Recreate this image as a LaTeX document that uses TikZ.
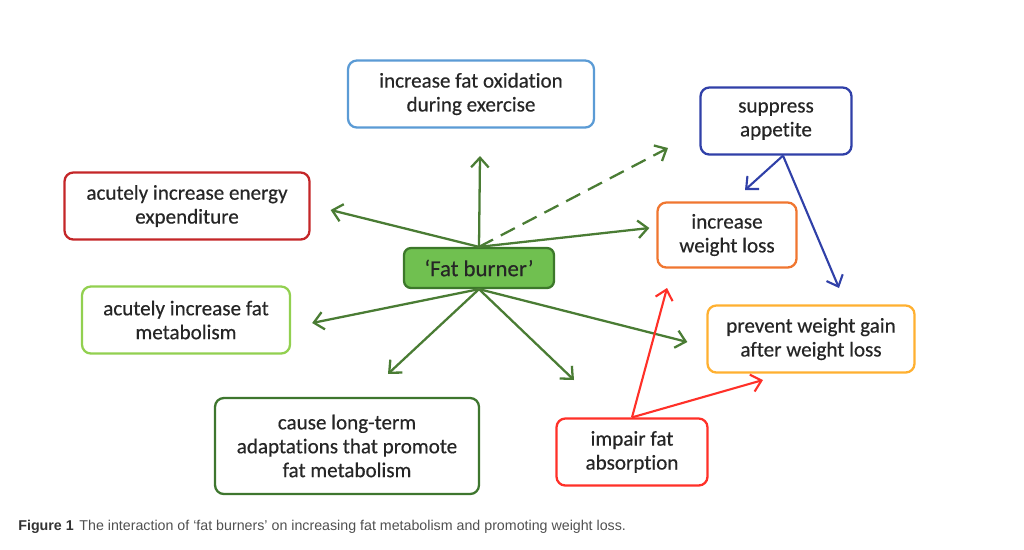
\documentclass[tikz,border=0pt]{standalone}
\usepackage{fontspec}
\setmainfont{Carlito}[Ligatures=NoCommon, FakeBold=0.4]
\newfontfamily\captionfont{Liberation Sans}
\usepackage{xcolor}
\usetikzlibrary{arrows.meta, calc}
\definecolor{oxidblue}{RGB}{91, 155, 213}
\definecolor{appblue}{RGB}{48, 64, 168}
\definecolor{energyred}{RGB}{196, 38, 40}
\definecolor{lossorange}{RGB}{240, 118, 48}
\definecolor{burnerfill}{RGB}{112, 192, 80}
\definecolor{burnerborder}{RGB}{60, 120, 42}
\definecolor{metagreen}{RGB}{146, 208, 80}
\definecolor{gainyellow}{RGB}{255, 176, 48}
\definecolor{termgreen}{RGB}{62, 118, 46}
\definecolor{impairred}{RGB}{255, 48, 40}
\definecolor{arrowgreen}{RGB}{74, 124, 52}
\definecolor{captiongray}{RGB}{80, 80, 80}

\begin{document}
\begin{tikzpicture}[
    x=0.02cm, y=-0.02cm,
    font=\fontsize{12}{13.6}\selectfont,
    effectbox/.style={rectangle, rounded corners=5pt, line width=1.3pt,
                      fill=white, align=center, inner sep=2pt,
                      minimum height=1.34cm, text=black!85},
    burnerbox/.style={rectangle, rounded corners=4pt, line width=1.3pt,
                      draw=burnerborder, fill=burnerfill, text=black!85,
                      minimum width=3.0cm, minimum height=0.8cm,
                      font=\fontsize{13}{14}\selectfont},
    greenarrow/.style={-{Straight Barb[length=5.5pt, width=10pt]},
                       line width=1.3pt, draw=arrowgreen},
    bluearrow/.style={-{Straight Barb[length=5.5pt, width=10pt]},
                      line width=1.2pt, draw=appblue},
    redarrow/.style={-{Straight Barb[length=5.5pt, width=10pt]},
                     line width=1.2pt, draw=impairred},
]
\useasboundingbox (0,0) rectangle (1024,549);

% ============================================================
% BOXES
% ============================================================
\node[effectbox, draw=oxidblue, minimum width=4.92cm] (oxid) at (471, 94)
    {increase fat oxidation\\during exercise};
\node[effectbox, draw=appblue, minimum width=3.02cm] (appetite) at (776, 121)
    {suppress\\appetite};
\node[effectbox, draw=energyred, minimum width=4.9cm] (energy) at (187, 206)
    {acutely increase energy\\expenditure};
\node[effectbox, draw=lossorange, minimum width=2.78cm, minimum height=1.3cm] (loss) at (727, 235)
    {increase\\weight loss};
\node[burnerbox] (burner) at (479, 268) {‘Fat burner’};
\node[effectbox, draw=metagreen, minimum width=4.16cm] (fatmeta) at (186, 320)
    {acutely increase fat\\metabolism};
\node[effectbox, draw=gainyellow, minimum width=4.14cm] (gain) at (811, 339)
    {prevent weight gain\\after weight loss};
\node[effectbox, draw=termgreen, minimum width=5.28cm, minimum height=1.92cm] (longterm) at (347, 446)
    {cause long-term\\adaptations that promote\\fat metabolism};
\node[effectbox, draw=impairred, minimum width=3.02cm] (impair) at (632, 452)
    {impair fat\\absorption};

% ============================================================
% FREE ARROW ENDS
% ============================================================
\coordinate (upend) at (480, 156);
\coordinate (dashend) at (668, 148);
\coordinate (downend) at (574, 380);
\coordinate (append) at (745, 190);
\coordinate (appgain) at (839, 288);
\coordinate (redloss) at (667, 288);
\coordinate (redgain) at (763, 380);

% ============================================================
% FAT BURNER -> EFFECTS
% ============================================================
\draw[greenarrow] (burner.north) -- (upend);
\draw[greenarrow, dashed, dash pattern=on 9pt off 5pt] (burner.north) -- (dashend);
\draw[greenarrow] (burner.north) -- ($(energy.east) + (20, 4)$);
\draw[greenarrow] (burner.north) -- ($(loss.west) + (-7, -7)$);
\draw[greenarrow] (burner.south) -- ($(fatmeta.east) + (21, 3)$);
\draw[greenarrow] (burner.south) -- ($(longterm.north) + (41, -23)$);
\draw[greenarrow] (burner.south) -- (downend);
\draw[greenarrow] (burner.south) -- ($(gain.west) + (-19, 3)$);

% ============================================================
% SUPPRESS APPETITE / IMPAIR FAT ABSORPTION
% ============================================================
\draw[bluearrow] ($(appetite.south) + (7, 0)$) -- (append);
\draw[bluearrow] ($(appetite.south) + (7, 0)$) -- (appgain);
\draw[redarrow] (impair.north) -- (redloss);
\draw[redarrow] (impair.north) -- (redgain);

% ============================================================
% CAPTION
% ============================================================
\node[anchor=west, inner sep=0pt, text=captiongray,
      font=\captionfont\fontsize{8.1}{9}\selectfont] (caption) at (18, 527)
    {\textcolor{black!80}{\textbf{Figure 1}}\hspace{0.4em}The interaction of ‘fat burners’ on increasing fat metabolism and promoting weight loss.};

\end{tikzpicture}
\end{document}
